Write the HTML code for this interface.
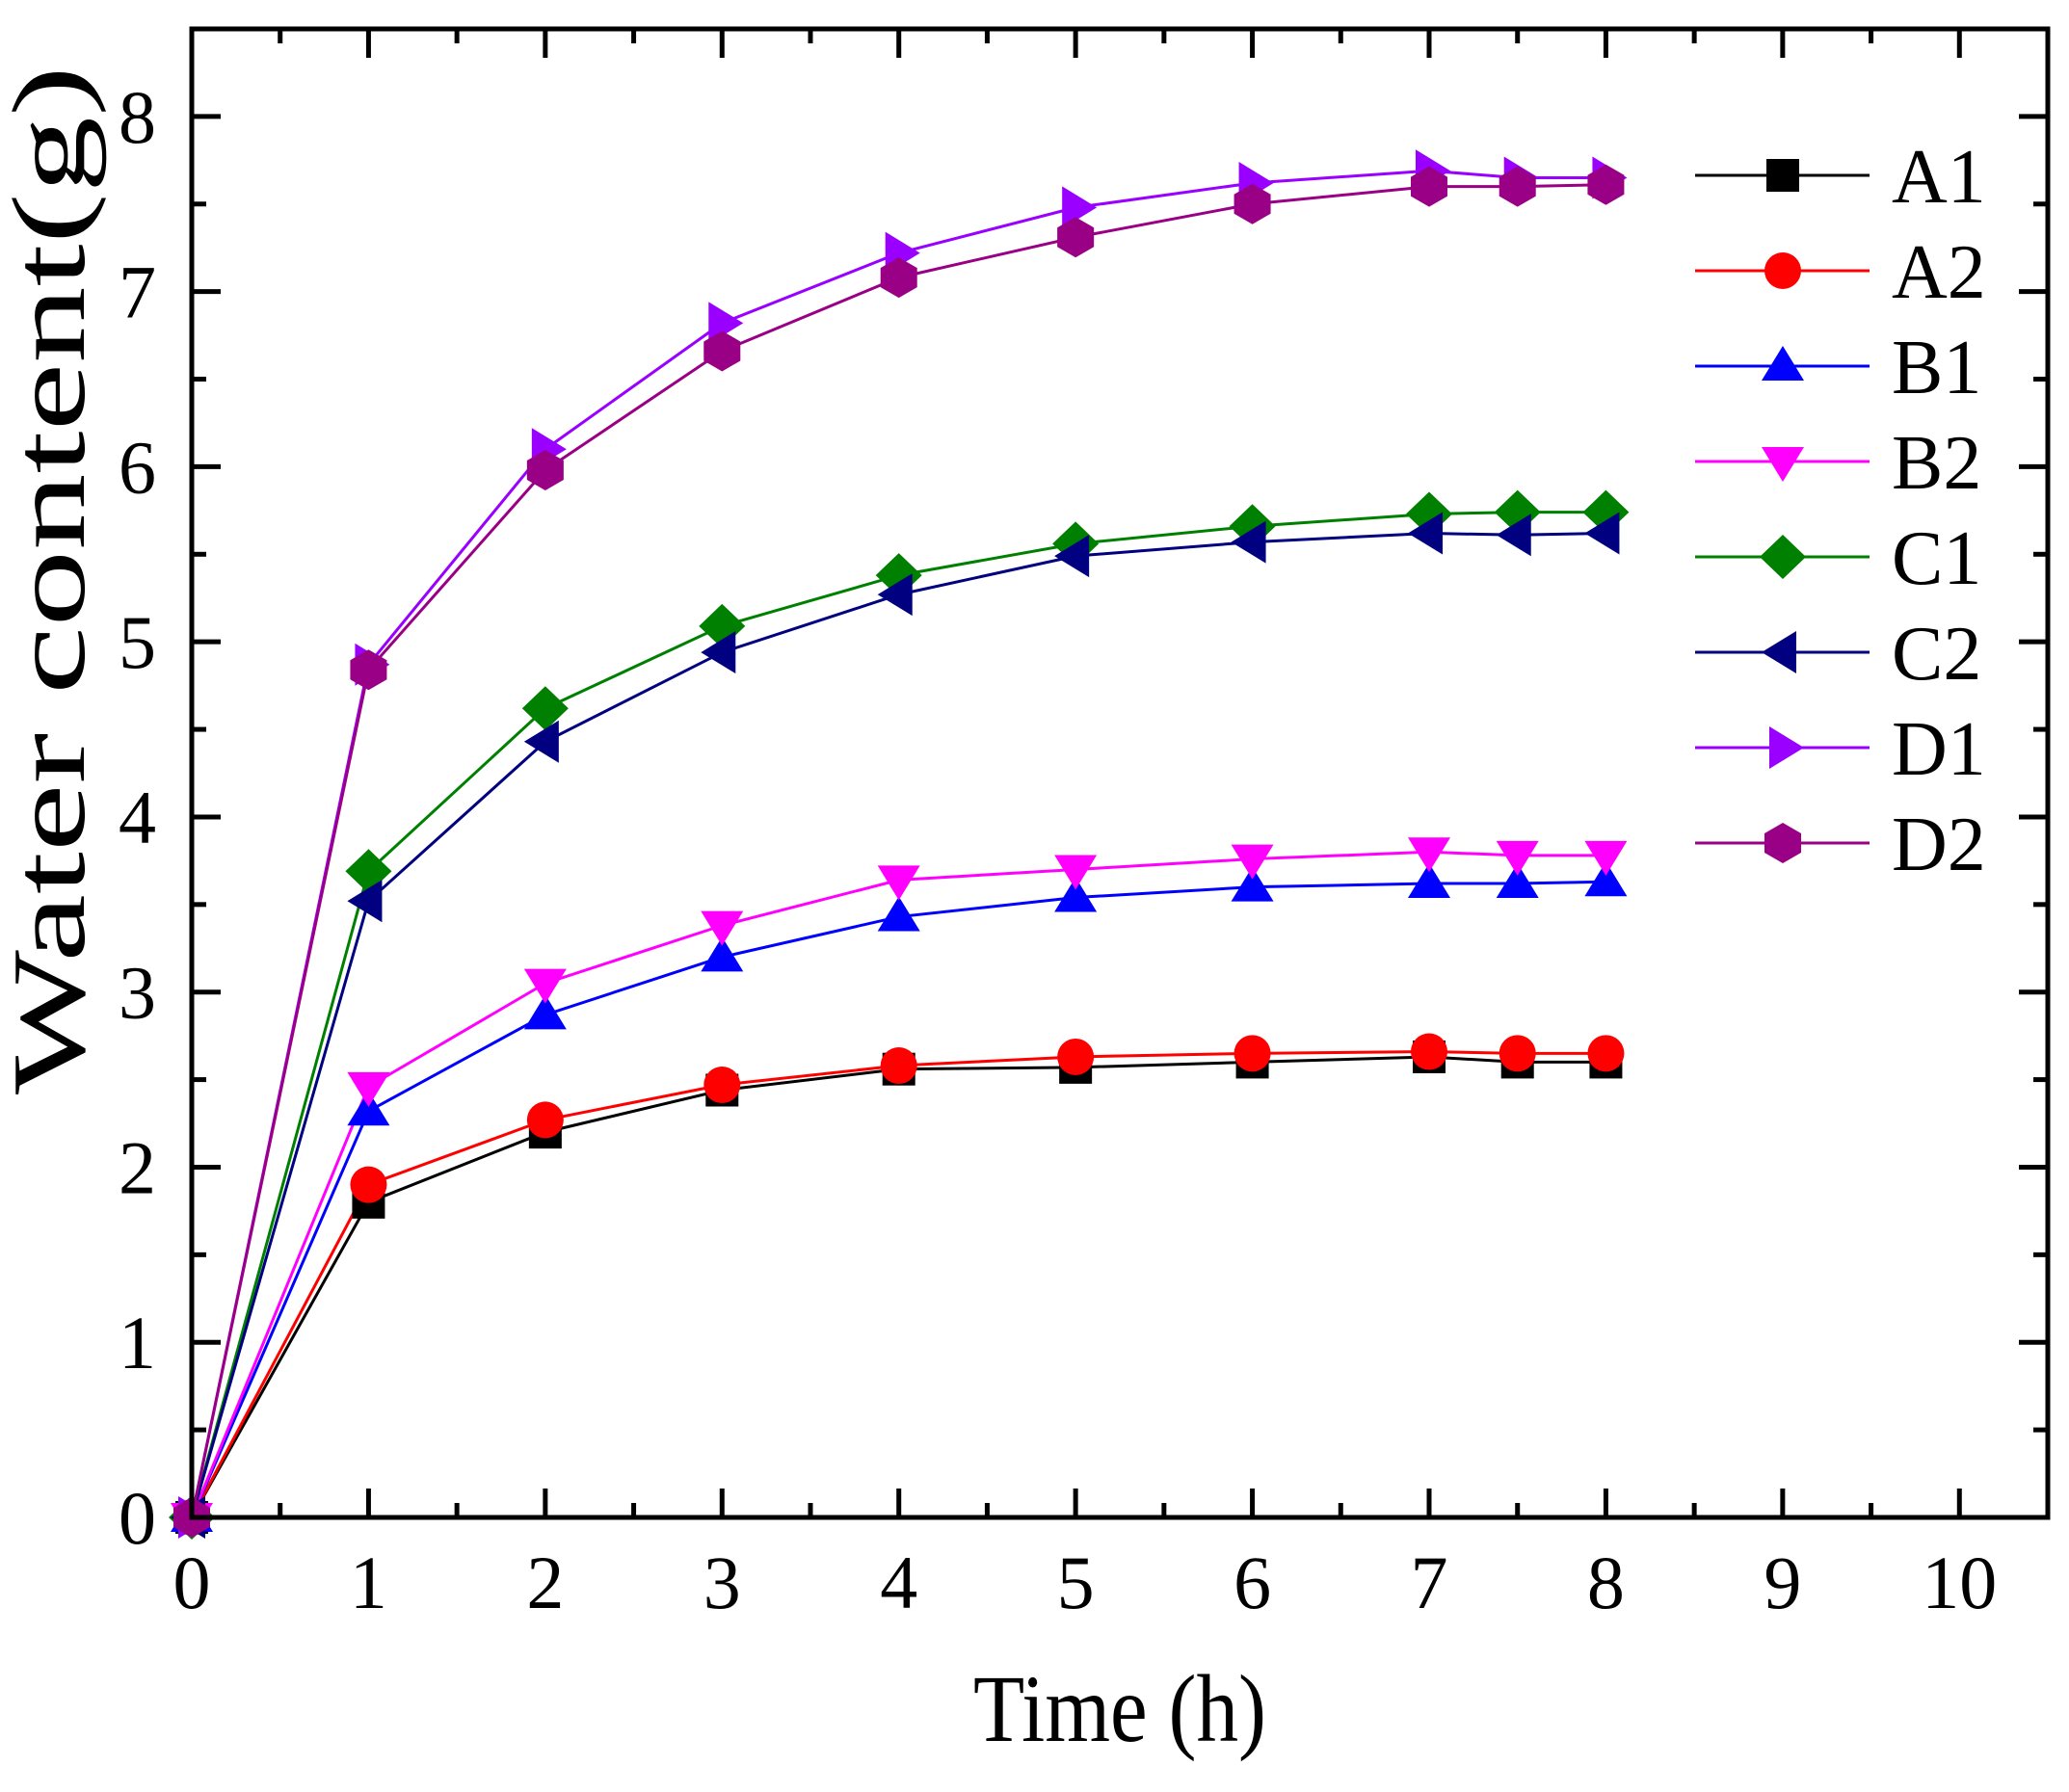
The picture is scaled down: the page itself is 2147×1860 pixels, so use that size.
<!DOCTYPE html>
<html><head><meta charset="utf-8"><style>
html,body{margin:0;padding:0;background:#fff;}
svg, svg text{font-family:"Liberation Serif","Times New Roman",Times,serif;}
</style></head><body>
<svg id="chart" width="2147" height="1855" viewBox="0 0 2147 1855" xmlns="http://www.w3.org/2000/svg" font-family="Liberation Serif, Times New Roman, serif">
<rect width="2147" height="1855" fill="#fff"/>
<g id="series-layer"></g>
<rect x="199" y="30" width="1926" height="1545" fill="none" stroke="#000" stroke-width="5"/>
<g id="axes-layer"></g>
<g id="legend-layer"></g>
<text transform="translate(87,602) rotate(-90)" text-anchor="middle" font-size="108" font-family="Liberation Serif, serif" textLength="1068" lengthAdjust="spacingAndGlyphs">Water content(g)</text>
<text x="1162" y="1807" text-anchor="middle" font-size="100" font-family="Liberation Serif, serif" textLength="304" lengthAdjust="spacingAndGlyphs">Time (h)</text>
</svg>
<script>
const times = [0, 1, 2, 3, 4, 5, 6, 7, 7.5, 8];
const seriesNames = ["A1", "A2", "B1", "B2", "C1", "C2", "D1", "D2"];
const seriesA1 = [0, 1.80, 2.20, 2.44, 2.56, 2.57, 2.60, 2.63, 2.60, 2.60];
const seriesA2 = [0, 1.90, 2.27, 2.47, 2.58, 2.63, 2.65, 2.66, 2.65, 2.65];
const seriesB1 = [0, 2.32, 2.87, 3.20, 3.43, 3.54, 3.60, 3.62, 3.62, 3.63];
const seriesB2 = [0, 2.46, 3.05, 3.38, 3.64, 3.70, 3.76, 3.80, 3.78, 3.78];
const seriesC1 = [0, 3.69, 4.62, 5.09, 5.38, 5.56, 5.66, 5.73, 5.74, 5.74];
const seriesC2 = [0, 3.52, 4.43, 4.94, 5.27, 5.49, 5.57, 5.62, 5.61, 5.62];
const seriesD1 = [0, 4.87, 6.10, 6.82, 7.22, 7.48, 7.62, 7.69, 7.65, 7.65];
const seriesD2 = [0, 4.84, 5.98, 6.66, 7.08, 7.31, 7.50, 7.60, 7.60, 7.61];
const xTickLabels = ["0","1","2","3","4","5","6","7","8","9","10"];
const yTickLabels = ["0","1","2","3","4","5","6","7","8"];

const allSeries = [seriesA1, seriesA2, seriesB1, seriesB2, seriesC1, seriesC2, seriesD1, seriesD2];
const colors = ["#000000","#ff0000","#0000ff","#ff00ff","#008000","#000080","#9900ff","#990085"];
const shapes = ["square","circle","up","down","diamond","left","right","hex"];

const X0 = 199, X1 = 2125, Y0 = 1575, Y1 = 30;
const xMax = 10.5, yMax = 8.5;
function xs(v){ return X0 + v / xMax * (X1 - X0); }
function ys(v){ return Y0 - v / yMax * (Y0 - Y1); }
const NS = "http://www.w3.org/2000/svg";
function mk(tag, attrs, parent){
  const e = document.createElementNS(NS, tag);
  for (const k in attrs) e.setAttribute(k, attrs[k]);
  parent.appendChild(e);
  return e;
}
function marker(shape, cx, cy, color, parent){
  let e;
  if (shape === "square") e = mk("rect", {x: cx-17, y: cy-17, width: 34, height: 34, fill: color}, parent);
  else if (shape === "circle") e = mk("ellipse", {cx: cx, cy: cy, rx: 19, ry: 19, fill: color}, parent);
  else {
    let pts;
    if (shape === "up") pts = [[0,-21],[22,15],[-22,15]];
    else if (shape === "down") pts = [[0,21],[22,-15],[-22,-15]];
    else if (shape === "left") pts = [[-22,0],[14,-22],[14,22]];
    else if (shape === "right") pts = [[22,0],[-14,-22],[-14,22]];
    else if (shape === "diamond") pts = [[0,-23],[24,0],[0,23],[-24,0]];
    else pts = [[0,-21],[19,-10],[19,10],[0,21],[-19,10],[-19,-10]];
    e = mk("polygon", {points: pts.map(p => (cx+p[0])+","+(cy+p[1])).join(" "), fill: color}, parent);
  }
  return e;
}

const sl = document.getElementById("series-layer");
allSeries.forEach((vals, i) => {
  const g = mk("g", {}, sl);
  
  
  const line = mk("polyline", {points: vals.map((v, j) => xs(times[j]) + "," + ys(v)).join(" "), fill: "none", stroke: colors[i], "stroke-width": 3}, g);
  
  
});
allSeries.forEach((vals, i) => {
  vals.forEach((v, j) => {
    const m = marker(shapes[i], xs(times[j]), ys(v), colors[i], sl);
    
    
  });
});

const al = document.getElementById("axes-layer");
for (let k = 0; k <= 21; k++) {
  const v = k * 0.5, x = xs(v), major = k % 2 === 0, L = major ? 30 : 15;
  const t1 = mk("line", {x1: x, x2: x, y1: Y0, y2: Y0 - L, stroke: "#000", "stroke-width": 5}, al);
  
  
  const t2 = mk("line", {x1: x, x2: x, y1: Y1, y2: Y1 + L, stroke: "#000", "stroke-width": 5}, al);
  
  
}
xTickLabels.forEach((lab, i) => {
  const t = mk("text", {x: xs(i), y: 1669, "text-anchor": "middle", "font-size": 78, "font-family": "Liberation Serif, serif"}, al);
  t.textContent = lab;
  
  
});
for (let k = 0; k <= 17; k++) {
  const v = k * 0.5, y = ys(v), major = k % 2 === 0, L = major ? 30 : 15;
  const t1 = mk("line", {x1: X0, x2: X0 + L, y1: y, y2: y, stroke: "#000", "stroke-width": 5}, al);
  
  
  const t2 = mk("line", {x1: X1, x2: X1 - L, y1: y, y2: y, stroke: "#000", "stroke-width": 5}, al);
  
  
}
yTickLabels.forEach((lab, i) => {
  const t = mk("text", {x: 162, y: ys(i) + 27, "text-anchor": "end", "font-size": 78, "font-family": "Liberation Serif, serif"}, al);
  t.textContent = lab;
  
  
});

const ll = document.getElementById("legend-layer");
seriesNames.forEach((name, i) => {
  const cy = 182 + i * 99;
  const g = mk("g", {}, ll);
  
  
  mk("line", {x1: 1759, x2: 1940, y1: cy, y2: cy, stroke: colors[i], "stroke-width": 3}, g);
  marker(shapes[i], 1850, cy, colors[i], g);
  const t = mk("text", {x: 1963, y: cy + 28, "font-size": 80, "font-family": "Liberation Serif, serif"}, g);
  t.textContent = name;
});
</script>
</body></html>
